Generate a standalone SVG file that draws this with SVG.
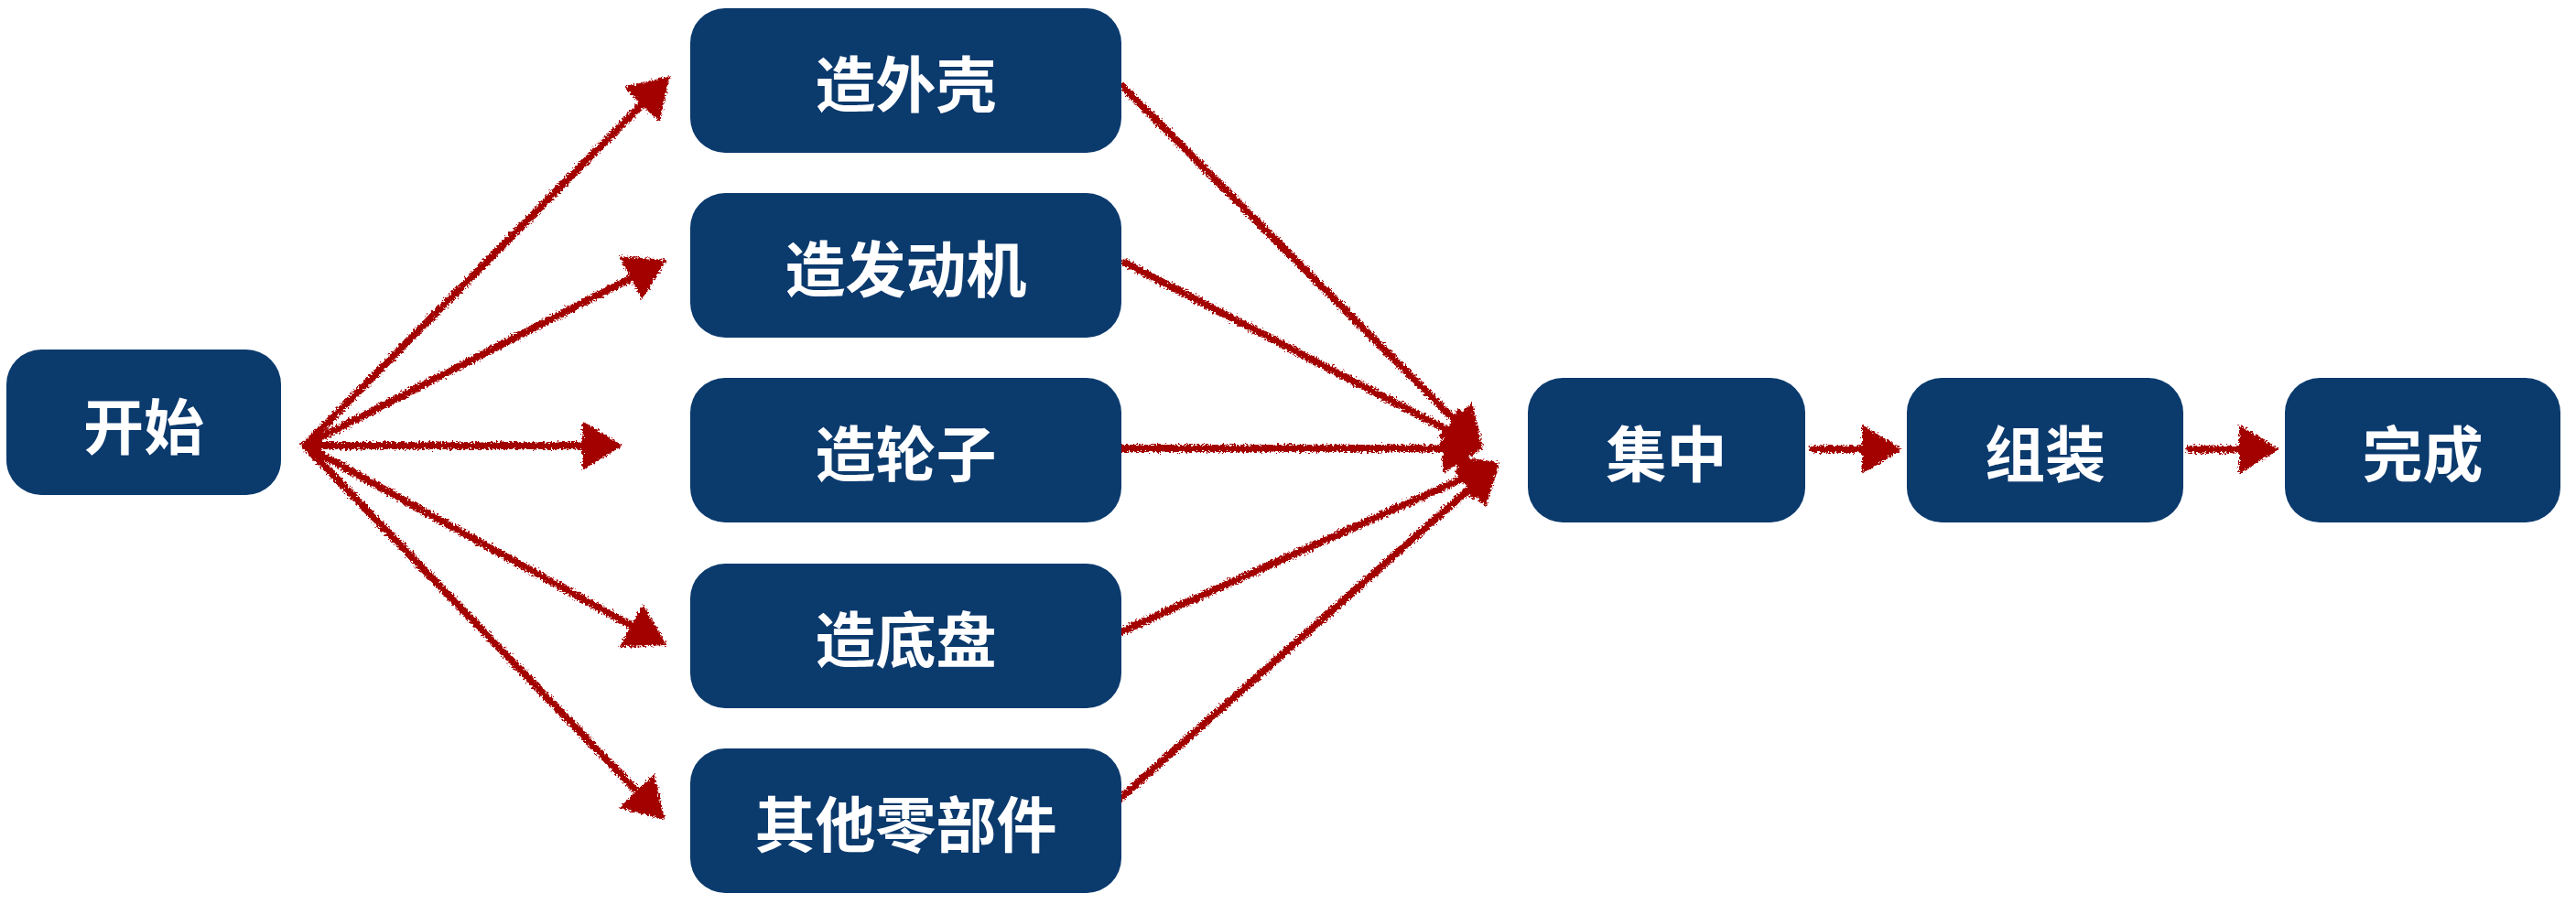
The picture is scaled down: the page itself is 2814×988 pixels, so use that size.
<svg xmlns="http://www.w3.org/2000/svg" width="2814" height="988" viewBox="0 0 2814 988">
  <style>
    .box { fill: #0b3a6d; }
    .label { fill: #ffffff; font-family: "Noto Sans CJK SC", "Noto Sans", sans-serif; font-weight: 700; font-size: 66px; text-anchor: middle; dominant-baseline: central; }
    .conn { stroke: #a30000; stroke-width: 8; fill: none; stroke-linecap: round; marker-end: url(#head); }
  </style>
  <defs>
    <filter id="rough" filterUnits="userSpaceOnUse" x="0" y="0" width="2814" height="988">
      <feTurbulence type="fractalNoise" baseFrequency="0.45" numOctaves="2" seed="4" result="noise"/>
      <feDisplacementMap in="SourceGraphic" in2="noise" scale="8" xChannelSelector="R" yChannelSelector="G"/>
    </filter>
    <marker id="head" viewBox="0 0 44 54" refX="14" refY="27" markerWidth="44" markerHeight="54" markerUnits="userSpaceOnUse" orient="auto">
      <path d="M0,0 L44,27 L0,54 Z" fill="#a30000"/>
    </marker>
  </defs>
  <rect width="2814" height="988" fill="#ffffff"/>

  <g id="connectors" filter="url(#rough)">
    <line class="conn" x1="333" y1="487" x2="710.9" y2="104.3"/>
    <line class="conn" x1="333" y1="487" x2="701.3" y2="297.7"/>
    <line class="conn" x1="333" y1="487" x2="650" y2="487"/>
    <line class="conn" x1="333" y1="487" x2="701.7" y2="690.5"/>
    <line class="conn" x1="333" y1="487" x2="705.2" y2="874.4"/>
    <line class="conn" x1="1227" y1="95" x2="1598.8" y2="468.7"/>
    <line class="conn" x1="1229" y1="287" x2="1593.4" y2="476.2"/>
    <line class="conn" x1="1223" y1="490" x2="1590" y2="490"/>
    <line class="conn" x1="1221" y1="692" x2="1610.6" y2="517.3"/>
    <line class="conn" x1="1223" y1="873" x2="1615.6" y2="524.9"/>
    <line class="conn" x1="1980" y1="491" x2="2048" y2="491"/>
    <line class="conn" x1="2392" y1="491" x2="2460" y2="491"/>
  </g>

  <g id="start">
    <rect class="box" x="7" y="382" width="300" height="159" rx="38"/>
    <text class="label" x="157" y="461.5">开始</text>
  </g>
  <g id="shell">
    <rect class="box" x="754" y="9" width="471" height="158" rx="38"/>
    <text class="label" x="989.5" y="88">造外壳</text>
  </g>
  <g id="engine">
    <rect class="box" x="754" y="211" width="471" height="158" rx="38"/>
    <text class="label" x="989.5" y="290">造发动机</text>
  </g>
  <g id="wheels">
    <rect class="box" x="754" y="413" width="471" height="158" rx="38"/>
    <text class="label" x="989.5" y="492">造轮子</text>
  </g>
  <g id="chassis">
    <rect class="box" x="754" y="616" width="471" height="158" rx="38"/>
    <text class="label" x="989.5" y="695">造底盘</text>
  </g>
  <g id="parts">
    <rect class="box" x="754" y="818" width="471" height="158" rx="38"/>
    <text class="label" x="989.5" y="897">其他零部件</text>
  </g>
  <g id="gather">
    <rect class="box" x="1669" y="413" width="303" height="158" rx="38"/>
    <text class="label" x="1820.5" y="492">集中</text>
  </g>
  <g id="assemble">
    <rect class="box" x="2083" y="413" width="302" height="158" rx="38"/>
    <text class="label" x="2234" y="492">组装</text>
  </g>
  <g id="done">
    <rect class="box" x="2496" y="413" width="301" height="158" rx="38"/>
    <text class="label" x="2646.5" y="492">完成</text>
  </g>
</svg>
